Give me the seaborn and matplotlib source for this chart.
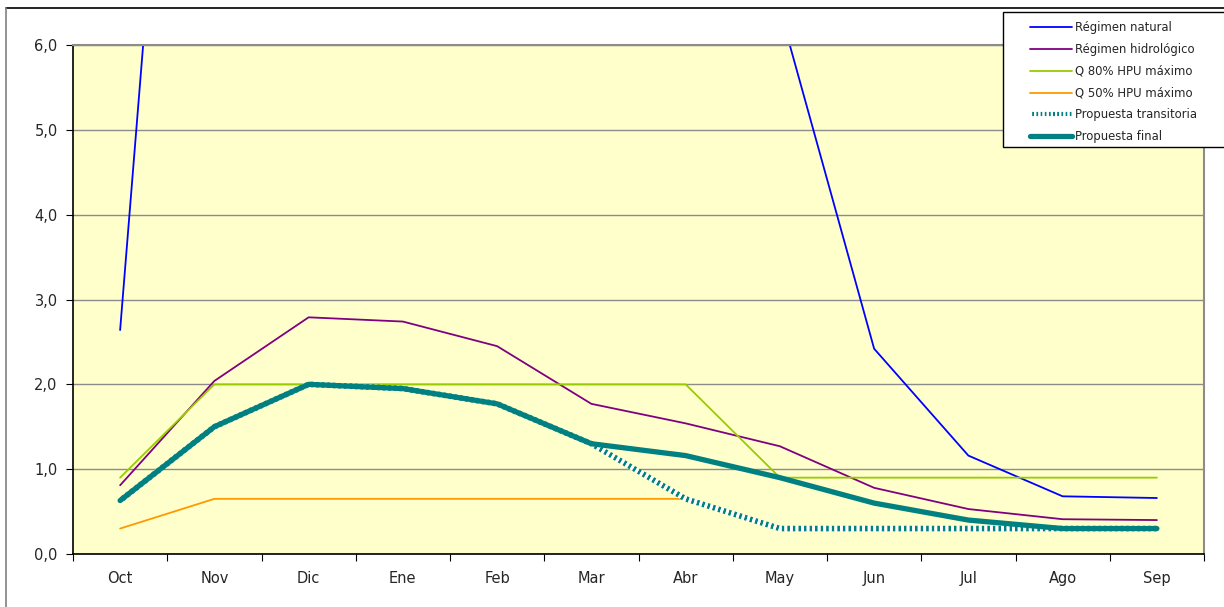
import numpy as np
import pandas as pd
import matplotlib
matplotlib.use("Agg")
import matplotlib.pyplot as plt
import seaborn as sns
from matplotlib.lines import Line2D
from matplotlib.patches import Rectangle

months = ["Oct", "Nov", "Dic", "Ene", "Feb", "Mar", "Abr", "May", "Jun", "Jul", "Ago", "Sep"]

regimen_natural = [2.64, 16.4, 25.0, 30.0, 28.0, 22.0, 15.0, 6.42, 2.42, 1.16, 0.68, 0.66]
regimen_hidrologico = [0.81, 2.04, 2.79, 2.74, 2.45, 1.77, 1.54, 1.27, 0.78, 0.53, 0.41, 0.40]
q80_hpu = [0.90, 2.0, 2.0, 2.0, 2.0, 2.0, 2.0, 0.90, 0.90, 0.90, 0.90, 0.90]
q50_hpu = [0.30, 0.65, 0.65, 0.65, 0.65, 0.65, 0.65, None, None, None, None, None]
propuesta_transitoria = [0.63, 1.50, 2.0, 1.95, 1.77, 1.30, 0.65, 0.30, 0.30, 0.30, 0.30, 0.30]
propuesta_final = [0.63, 1.50, 2.0, 1.95, 1.77, 1.30, 1.16, 0.90, 0.60, 0.40, 0.30, 0.30]

TEAL = "#008080"
CHECK = (0, (0.5, 0.5))

df = pd.DataFrame({
    "x": np.arange(len(months)),
    "natural": regimen_natural,
    "hidro": regimen_hidrologico,
    "q80": q80_hpu,
    "q50": pd.to_numeric(pd.Series(q50_hpu), errors="coerce"),
    "trans": propuesta_transitoria,
    "final": propuesta_final,
})

sns.set_style("white")
plt.rcParams["font.family"] = ["DejaVu Sans"]

fig = plt.figure(figsize=(12.24, 6.07), dpi=100)
ax = fig.add_axes([73 / 1224, 1 - 554 / 607, (1204 - 73) / 1224, (554 - 45) / 607])
ax.set_facecolor("#FFFFCC")

sns.lineplot(data=df, x="x", y="natural", color="#0000FF", lw=1.3, ax=ax)
sns.lineplot(data=df, x="x", y="hidro", color="#800080", lw=1.3, ax=ax)
sns.lineplot(data=df, x="x", y="q80", color="#99CC00", lw=1.3, ax=ax)
sns.lineplot(data=df.dropna(subset=["q50"]), x="x", y="q50", color="#FF9900", lw=1.3, ax=ax)
# checkered "transitoria" line: white dashes with teal gaps
sns.lineplot(data=df, x="x", y="trans", color="white", lw=4.0, ax=ax,
             linestyle=CHECK, gapcolor=TEAL, dash_capstyle="butt")
sns.lineplot(data=df, x="x", y="final", color=TEAL, lw=3.8, ax=ax,
             solid_capstyle="round")

ax.set_xlim(-0.5, len(months) - 0.5)
ax.set_ylim(0, 6)
ax.set_xlabel("")
ax.set_ylabel("")

ax.set_yticks(np.arange(0, 6.1, 1))
ax.set_yticklabels([f"{v:.1f}".replace(".", ",") for v in np.arange(0, 6.1, 1)], fontsize=10.5)
ax.yaxis.grid(True, color="#8c8c8c", lw=1)
ax.set_axisbelow(True)

ax.set_xticks(np.arange(-0.5, len(months), 1))
ax.set_xticklabels([])
ax.set_xticks(np.arange(len(months)), minor=True)
ax.set_xticklabels(months, minor=True, fontsize=10.5)
ax.tick_params(axis="x", which="major", direction="out", length=5, color="black", bottom=True)
ax.tick_params(axis="x", which="minor", length=0, pad=12)
ax.tick_params(axis="y", direction="out", length=5, color="black", left=True, pad=6)

for s in ["left", "bottom"]:
    ax.spines[s].set_color("black")
    ax.spines[s].set_linewidth(1.2)
for s in ["top", "right"]:
    ax.spines[s].set_color("#8c8c8c")
    ax.spines[s].set_linewidth(1.5)

# figure border
fig.add_artist(Line2D([6 / 1224, 1], [1 - 8 / 607, 1 - 8 / 607], transform=fig.transFigure,
                      color="black", lw=1.2))
fig.add_artist(Line2D([6 / 1224, 6 / 1224], [0, 1 - 8 / 607], transform=fig.transFigure,
                      color="#808080", lw=1.2))

# legend frame drawn separately (it runs off the right edge in the original)
fig.add_artist(Rectangle((1003 / 1224, 1 - 147 / 607), 240 / 1224, 135 / 607,
                         transform=fig.transFigure, facecolor="white",
                         edgecolor="black", lw=1.0, zorder=4))

handles = [
    Line2D([], [], color="#0000FF", lw=1.3),
    Line2D([], [], color="#800080", lw=1.3),
    Line2D([], [], color="#99CC00", lw=1.3),
    Line2D([], [], color="#FF9900", lw=1.3),
    Line2D([], [], color="white", lw=3.0, ls=CHECK, gapcolor=TEAL, dash_capstyle="butt"),
    Line2D([], [], color=TEAL, lw=3.8),
]
labels = ["Régimen natural", "Régimen hidrológico", "Q 80% HPU máximo",
          "Q 50% HPU máximo", "Propuesta transitoria", "Propuesta final"]
leg = fig.legend(handles, labels, loc="upper left",
                 bbox_to_anchor=(1030 / 1224, 1 - 21 / 607),
                 fontsize=8.4, frameon=False, borderpad=0, labelspacing=0.76,
                 handlelength=3.6, handletextpad=0.25, borderaxespad=0)
leg.set_zorder(5)

fig.savefig("out.png", dpi=100, facecolor="white")
